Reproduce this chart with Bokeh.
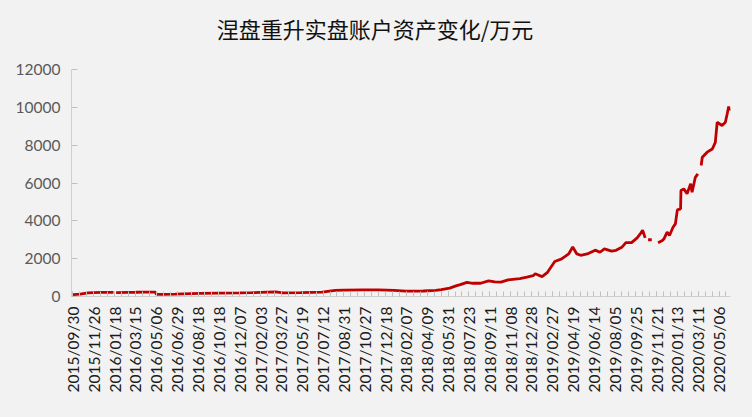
import datetime
import numpy as np
from bokeh.plotting import figure
from bokeh.models import FixedTicker, Range1d, Div
from bokeh.layouts import column
from bokeh.embed import file_html
from bokeh.resources import INLINE

title_text = "涅盘重升实盘账户资产变化/万元"

tick_labels = [
    "2015/09/30", "2015/11/26", "2016/01/18", "2016/03/15", "2016/05/06",
    "2016/06/29", "2016/08/18", "2016/10/18", "2016/12/07", "2017/02/03",
    "2017/03/27", "2017/05/19", "2017/07/12", "2017/08/31", "2017/10/27",
    "2017/12/18", "2018/02/07", "2018/04/09", "2018/05/31", "2018/07/23",
    "2018/09/11", "2018/11/08", "2018/12/28", "2019/02/27", "2019/04/19",
    "2019/06/14", "2019/08/05", "2019/09/25", "2019/11/21", "2020/01/13",
    "2020/03/11", "2020/05/06",
]

y_ticks = [0, 2000, 4000, 6000, 8000, 10000, 12000]

nan = float("nan")
dates = [
    "2015/09/30", "2015/10/20", "2015/11/10", "2015/11/25", "2015/12/15",
    "2016/01/04", "2016/01/15", "2016/01/19", "2016/01/22", "2016/02/20",
    "2016/03/15", "2016/04/10", "2016/05/04", "2016/05/06", "2016/05/20",
    "2016/06/24", "2016/08/01", "2016/08/22", "2016/10/20", "2016/12/08",
    "2017/01/10", "2017/02/03", "2017/03/13", "2017/03/31", "2017/05/15",
    "2017/07/10", "2017/08/10", "2017/08/31", "2017/10/20", "2017/12/01",
    "2018/01/08", "2018/02/05", "2018/03/28", "2018/04/30", "2018/05/14",
    "2018/06/04", "2018/06/20", "2018/07/01", "2018/07/18", "2018/08/01",
    "2018/08/20", "2018/09/08", "2018/09/25", "2018/10/12", "2018/11/01",
    "2018/11/30", "2018/12/17", "2019/01/02", "2019/01/08", "2019/01/28",
    "2019/02/13", "2019/03/05", "2019/03/22", "2019/04/08", "2019/04/18",
    "2019/04/29", "2019/05/09", "2019/05/27", "2019/06/17", "2019/06/29",
    "2019/07/10", "2019/07/28", "2019/08/08", "2019/08/22", "2019/09/01",
    "2019/09/15", "2019/09/29", "2019/10/09", "2019/10/14", "2019/10/21",
    "2019/10/24", "2019/10/29", "2019/11/08", "2019/11/15", "2019/11/25",
    "2019/12/06", "2019/12/10", "2019/12/18", "2019/12/24", "2020/01/02",
    "2020/01/08", "2020/01/13", "2020/01/22", "2020/01/23", "2020/01/31",
    "2020/02/09", "2020/02/19", "2020/02/23", "2020/03/03", "2020/03/10",
    "2020/03/14", "2020/03/19", "2020/03/22", "2020/04/04", "2020/04/18",
    "2020/04/26", "2020/05/01", "2020/05/14", "2020/05/23", "2020/05/28",
    "2020/06/01", "2020/06/04",
]
values = [
    95, 130, 190, 210, 215,
    220, 215, nan, 210, 220,
    225, 235, 230, 115, 110,
    125, 150, 160, 175, 190,
    200, 215, 240, 195, 200,
    235, 320, 340, 350, 345,
    320, 285, 290, 320, 360,
    440, 560, 630, 750, 700,
    700, 830, 770, 760, 880,
    950, 1020, 1100, 1200, 1050,
    1280, 1850, 1990, 2250, 2620,
    2250, 2180, 2250, 2450, 2340,
    2520, 2400, 2440, 2600, 2850,
    2850, 3100, 3350, 3500, 3100,
    nan, 3000, 3000, nan, 2840,
    2960, 3050, 3400, 3225, 3660,
    3840, 4580, 4635, 5600, 5690,
    5430, 5955, 5510, 6300, 6485,
    nan, 6925, 7360, 7630, 7800,
    8150, 9210, 9040, 9210, 9660,
    10040, 9830,
]


def to_ord(s):
    return datetime.date.fromisoformat(s.replace("/", "-")).toordinal()


tick_ords = [to_ord(d) for d in tick_labels]
ext_ords = tick_ords + [tick_ords[-1] + (tick_ords[-1] - tick_ords[-2])]
pos = np.interp([to_ord(d) for d in dates], ext_ords, np.arange(len(ext_ords)))

BG = "#f2f2f2"
TITLE_H = 56

header = Div(
    text=(
        '<div style="width:750px;height:%dpx;line-height:%dpx;text-align:center;'
        "font-family:'Noto Sans CJK SC';font-size:22px;color:#111111;"
        'margin:0;padding:0;white-space:nowrap;">%s</div>'
    ) % (TITLE_H, TITLE_H, title_text),
    width=752, height=TITLE_H,
    styles={"background-color": BG, "margin": "0", "padding": "0"},
)

p = figure(
    width=752, height=417 - TITLE_H, output_backend="svg", toolbar_location=None,
    x_range=Range1d(-0.07, 31.55), y_range=Range1d(0, 12000),
    min_border_left=71, min_border_right=22, min_border_top=69 - TITLE_H,
    min_border_bottom=121,
    background_fill_color=BG, border_fill_color=BG,
)
p.outline_line_color = None
p.xgrid.visible = False
p.ygrid.visible = False

p.line(x=pos, y=values, line_color="#c00000", line_width=2.8)

ax = p.xaxis[0]
ax.ticker = FixedTicker(ticks=list(range(len(tick_labels))),
                        minor_ticks=[i / 3 for i in range(0, 3 * len(tick_labels))])
ax.major_label_overrides = {i: t for i, t in enumerate(tick_labels)}
ax.major_label_orientation = np.pi / 2
ax.major_label_text_font = "Lato"
ax.major_label_text_font_size = "15.5px"
ax.major_label_text_color = "#1a1a1a"
ax.major_label_standoff = 10
ax.axis_line_color = "#d0d0d0"
ax.major_tick_line_color = "#c0c0c0"
ax.minor_tick_line_color = "#c0c0c0"
ax.major_tick_in = 5
ax.major_tick_out = 0
ax.minor_tick_in = 5
ax.minor_tick_out = 0

ay = p.yaxis[0]
ay.ticker = FixedTicker(ticks=y_ticks)
ay.major_label_overrides = {v: str(v) for v in y_ticks}
ay.major_label_text_font = "Lato"
ay.major_label_text_font_size = "15.5px"
ay.major_label_text_color = "#595959"
ay.major_label_standoff = 11
ay.axis_line_color = "#d0d0d0"
ay.major_tick_line_color = "#c0c0c0"
ay.major_tick_in = 6
ay.major_tick_out = 0
ay.minor_tick_line_color = None

layout = column(header, p, spacing=0, styles={"background-color": BG})

open("out.html", "w").write(file_html(layout, INLINE))
